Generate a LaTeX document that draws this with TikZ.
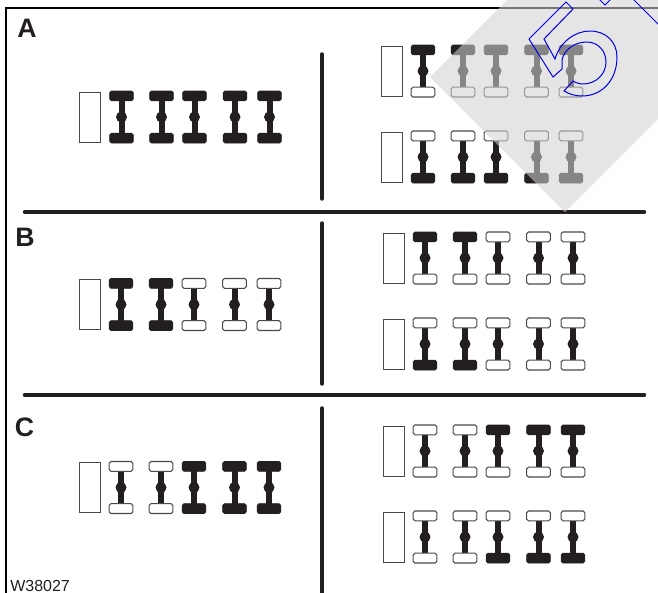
\documentclass[tikz,border=0pt]{standalone}
\usepackage{fontspec}
\setmainfont{Liberation Sans}
\usepackage{xcolor}
\usepackage{tikz}
\definecolor{cAxle}{HTML}{231F20}
\definecolor{cEdge}{HTML}{4A4A4A}
\definecolor{cOver}{HTML}{D2D2D2}
\definecolor{cFive}{HTML}{0000E6}
\tikzset{
  rule/.style={cAxle,line width=2.6pt,line cap=round},
  frameline/.style={black,line width=1.7pt},
  cab/.style={draw=cEdge,fill=white,line width=0.7pt},
  tyref/.style={fill=cAxle,draw=cAxle,line width=0.5pt,rounded corners=1.3pt},
  tyrew/.style={fill=white,draw=cEdge,line width=0.8pt,rounded corners=1.3pt},
  panel/.style={font=\bfseries\fontsize{20pt}{20pt}\selectfont,text=cAxle,inner sep=0pt,anchor=base west}
}
% one vehicle: x, y, then top/bottom tyre of each axle
\newcommand{\axlerow}[7]{%
  \draw[cab] (#1,#2-25) rectangle (#1+21,#2+25);
  \foreach \off/\tp/\bt in {42/#3,82/#4,115/#5,155.5/#6,190/#7}{
    \fill[cAxle] (#1+\off-3,#2-20) rectangle (#1+\off+3,#2+20);
    \fill[cAxle] (#1+\off,#2) circle (5.5);
    \draw[tyre\tp] (#1+\off-11.9,#2-26) rectangle (#1+\off+11.9,#2-16.2);
    \draw[tyre\bt] (#1+\off-11.9,#2+16.2) rectangle (#1+\off+11.9,#2+26);
  }
}
\begin{document}
\begin{tikzpicture}[x=0.75pt,y=-0.75pt]
  \useasboundingbox (0,0) rectangle (658,593);
  \clip (0,0) rectangle (658,593);
  \fill[white] (0,0) rectangle (658,593);
  % frame and dividers
  \draw[frameline] (6,593) -- (6,7.7) -- (658,7.7);
  \draw[rule] (24.5,212) -- (644.5,212);
  \draw[rule] (24.5,395) -- (644.5,395);
  \draw[rule] (322,54) -- (322,199);
  \draw[rule] (322,223) -- (322,384);
  \draw[rule] (322,408) -- (322,600);
  % A
  \axlerow{79.5}{117}{f/f}{f/f}{f/f}{f/f}{f/f}
  \axlerow{381}{71}{f/w}{f/w}{f/w}{f/w}{f/w}
  \axlerow{381}{157}{w/f}{w/f}{w/f}{w/f}{w/f}
  % B
  \axlerow{79}{304.5}{f/f}{f/f}{w/w}{w/w}{w/w}
  \axlerow{383}{258}{f/w}{f/w}{w/w}{w/w}{w/w}
  \axlerow{383}{344}{w/f}{w/f}{w/w}{w/w}{w/w}
  % C
  \axlerow{79}{487.5}{w/w}{w/w}{f/f}{f/f}{f/f}
  \axlerow{383}{451}{w/w}{w/w}{f/w}{f/w}{f/w}
  \axlerow{383}{537}{w/w}{w/w}{w/f}{w/f}{w/f}
  \node[panel] (labA) at (17,37.5) {A};
  \node[panel] (labB) at (15,246) {B};
  \node[panel] (labC) at (14.5,436) {C};
  \node[font=\fontsize{12pt}{12pt}\selectfont,text=cAxle,inner sep=0pt,anchor=base west] (code) at (10,591.5) {W38027};
  % stamp
  \fill[cOver,fill opacity=0.57] (430,77) -- (530,-23) -- (700,-23) -- (700,77) -- (565,212) -- cycle;
  \draw[cFive,line width=0.75pt,line join=miter]
    (529,39) -- (566,2) -- (573,9) -- (544,39) -- (555,59)
    .. controls (560,42) and (575,31) .. (590,31)
    .. controls (606,31) and (617,42) .. (617,57)
    .. controls (617,80) and (602,96) .. (582,96)
    .. controls (575,96) and (569,94) .. (564,91)
    -- (573,81)
    .. controls (576,83) and (580,84) .. (583,84)
    .. controls (596,84) and (606,74) .. (606,62)
    .. controls (606,51) and (598,42) .. (587,42)
    .. controls (574,42) and (564,50) .. (562,60)
    -- (562,69) -- (553,77) -- cycle;
  \draw[cFive,line width=0.75pt] (599,-1) -- (605,5) -- (611,-1);
  \draw[cFive,line width=0.75pt] (633,-1) -- (659,25);
\end{tikzpicture}
\end{document}
